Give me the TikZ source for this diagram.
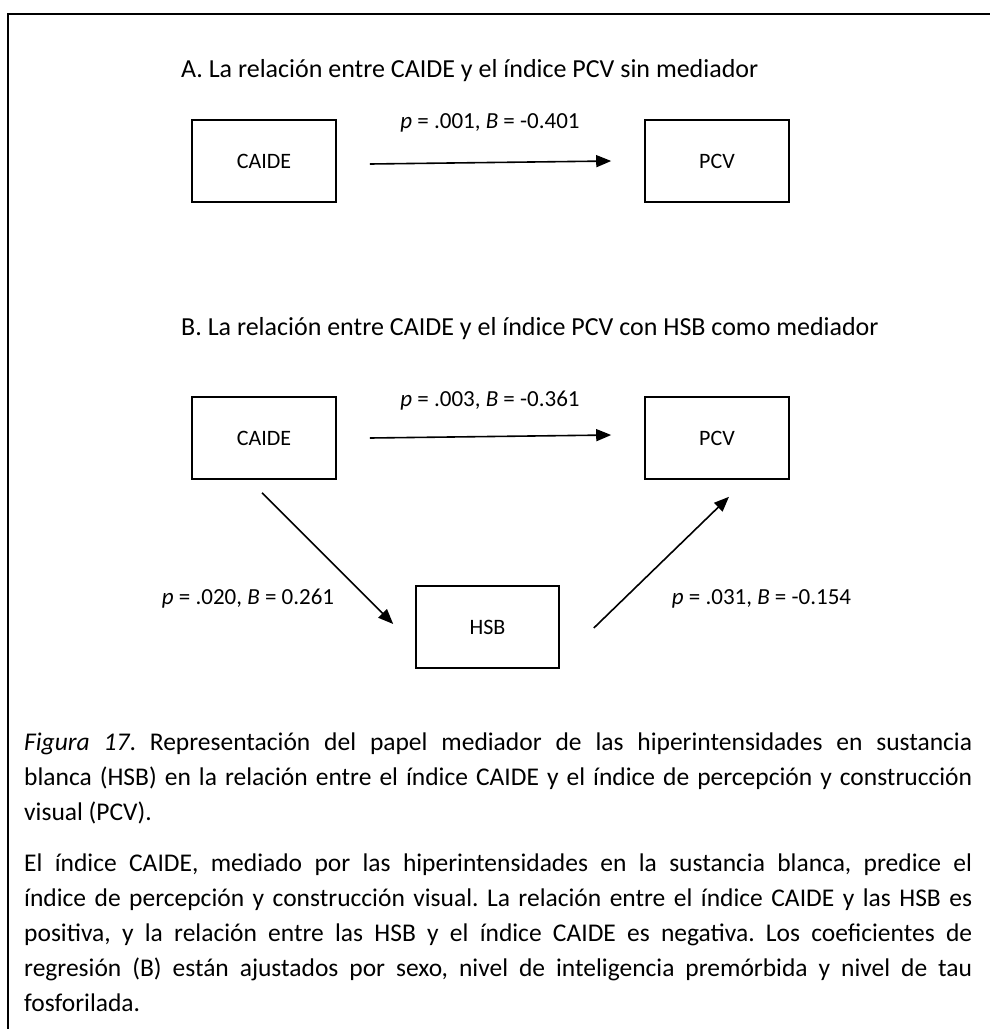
\documentclass[tikz,border=0pt]{standalone}
\usepackage{fontspec}
\setmainfont{Carlito}
\usetikzlibrary{arrows.meta,calc}
\frenchspacing
\begin{document}
\begin{tikzpicture}[x=1pt,y=-1pt,
  box/.style={draw,line width=1.6pt,minimum width=144pt,minimum height=82pt,inner sep=0pt,font=\fontsize{22}{26}\selectfont},
  lbl/.style={inner sep=0pt,anchor=base,font=\fontsize{23}{28}\selectfont},
  ttl/.style={inner sep=0pt,anchor=base west,font=\fontsize{26}{31}\selectfont},
  arr/.style={line width=1.6pt,-{Triangle[length=15pt,width=12pt]}}]
\useasboundingbox (0,0) rectangle (990,1029);
\draw[line width=2.5pt] (8,1029) -- (8,14) -- (990,14);
% Part A
\node[ttl] (ttlA) at (181,77) {A. La relación entre CAIDE y el índice PCV sin mediador};
\node[box] (caideA) at (264,161) {CAIDE};
\node[box] (pcvA) at (717,161) {PCV};
\node[lbl] (lblA) at (490,128) {\textit{p} = .001, \textit{B} = -0.401};
\draw[arr] ([xshift=33pt,yshift=-3pt]caideA.east) -- ([xshift=-33pt]pcvA.west);
% Part B
\node[ttl] (ttlB) at (181,335) {B. La relación entre CAIDE y el índice PCV con HSB como mediador};
\node[box] (caideB) at (264,438) {CAIDE};
\node[box] (pcvB) at (717,438) {PCV};
\node[box,minimum width=143pt] (hsb) at (487.5,627) {HSB};
\node[lbl] (lblB) at (490,406) {\textit{p} = .003, \textit{B} = -0.361};
\draw[arr] ([xshift=33pt]caideB.east) -- ([xshift=-33pt,yshift=3pt]pcvB.west);
\draw[arr] ([xshift=-2pt,yshift=-13pt]caideB.south) -- ([xshift=-22pt,yshift=3pt]hsb.west);
\draw[arr] ([xshift=34pt,yshift=-1pt]hsb.east) -- ([xshift=12pt,yshift=-17pt]pcvB.south);
\node[lbl] (lblC) at (248,604) {\textit{p} = .020, \textit{B} = 0.261};
\node[lbl] (lblD) at (761.5,604) {\textit{p} = .031, \textit{B} = -0.154};
% Caption
\node[inner sep=0pt,anchor=base west] (cap) at (24,750) {\parbox[t]{948pt}{\fontsize{25.5}{35}\selectfont
\makebox[948pt][s]{\textit{Figura 17}. Representación del papel mediador de las hiperintensidades en sustancia}\\
\makebox[948pt][s]{blanca (HSB) en la relación entre el índice CAIDE y el índice de percepción y construcción}\\
visual (PCV).\\[16pt]
\makebox[948pt][s]{El índice CAIDE, mediado por las hiperintensidades en la sustancia blanca, predice el}\\
\makebox[948pt][s]{índice de percepción y construcción visual. La relación entre el índice CAIDE y las HSB es}\\
\makebox[948pt][s]{positiva, y la relación entre las HSB y el índice CAIDE es negativa. Los coeficientes de}\\
\makebox[948pt][s]{regresión (B) están ajustados por sexo, nivel de inteligencia premórbida y nivel de tau}\\
fosforilada.}};
\end{tikzpicture}
\end{document}
